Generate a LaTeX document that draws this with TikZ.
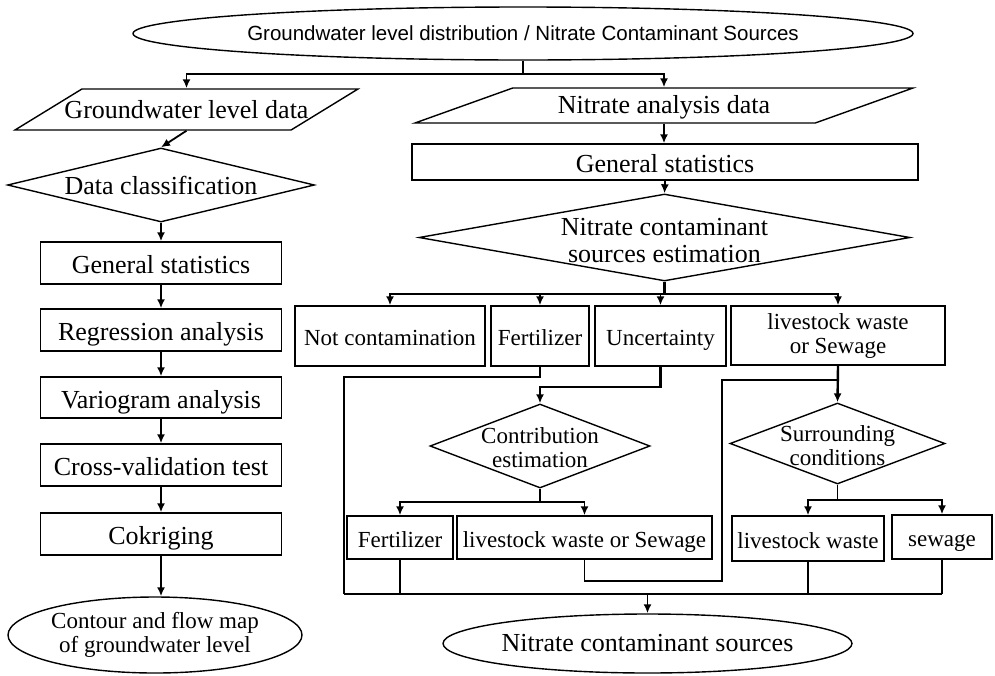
\documentclass[tikz,border=0pt]{standalone}
\usepackage{fontspec}
\setmainfont{Liberation Serif}
\newfontfamily\headfont{Liberation Sans}
\usetikzlibrary{shapes.geometric,arrows.meta}
\newcommand{\flowbig}{\fontsize{26}{27}\selectfont}
\newcommand{\flowsmall}{\fontsize{23}{24}\selectfont}
\newcommand{\flowhead}{\headfont\fontsize{20.5}{22}\selectfont}

\begin{document}
\begin{tikzpicture}[x=1pt,y=-1pt,
  outline/.style={draw,line width=1.4pt,inner sep=0pt},
  box/.style={outline,rectangle},
  decide/.style={outline,diamond},
  io/.style={outline,trapezium,trapezium stretches body},
  term/.style={outline,ellipse},
  bigtxt/.style={font=\flowbig,align=center},
  smalltxt/.style={font=\flowsmall,align=center},
  bigbox/.style={box,bigtxt,text height=22pt,text depth=1pt},
  smallbox/.style={box,smalltxt,text height=20pt,text depth=1pt},
  link/.style={line width=1.8pt},
  heavylink/.style={line width=2.6pt},
  arrowlink/.style={line width=1.8pt,-{Latex[length=9pt,width=8pt]}}]
\useasboundingbox (0,0) rectangle (995,675) ;

\node (top) [term,minimum width=780,minimum height=53,label={[font=\flowhead]center:Groundwater level distribution / Nitrate Contaminant Sources}] at (523,33.5) {} ;

\node (gwdata) [io,trapezium left angle=31.5,trapezium right angle=148.5,inner ysep=20.5pt,minimum width=343,label={[bigtxt]center:Groundwater level data}] at (186.5,109.5) {} ;
\node (classify) [decide,minimum width=307,minimum height=74,label={[bigtxt]center:Data classification}] at (161,185) {} ;
\node (stat1) [bigbox,minimum width=241,minimum height=42] at (161,263) {General statistics} ;
\node (regress) [bigbox,minimum width=241,minimum height=42] at (161,330) {Regression analysis} ;
\node (vario) [bigbox,minimum width=241,minimum height=41] at (161,397.5) {Variogram analysis} ;
\node (crossval) [bigbox,minimum width=241,minimum height=42] at (161,465) {Cross-validation test} ;
\node (cokrig) [bigbox,minimum width=241,minimum height=42] at (161,534) {Cokriging} ;
\node (contour) [term,minimum width=294,minimum height=76,label={[smalltxt]center:{Contour and flow map\\of groundwater level}}] at (155,635) {} ;

\node (no3data) [io,trapezium left angle=19.7,trapezium right angle=160.3,inner ysep=17.5pt,minimum width=498,label={[bigtxt,yshift=-2]center:Nitrate analysis data}] at (664,105.5) {} ;
\node (stat2) [bigbox,minimum width=506,minimum height=36] at (665,162) {General statistics} ;
\node (estim) [decide,minimum width=491,minimum height=87,label={[bigtxt,yshift=-3]center:{Nitrate contaminant\\sources estimation}}] at (664.5,237.5) {} ;

\node (notcont) [smallbox,minimum width=190,minimum height=60] at (390,336) {Not contamination} ;
\node (fert1) [smallbox,minimum width=98,minimum height=60] at (540,336) {Fertilizer} ;
\node (uncert) [smallbox,minimum width=131,minimum height=60] at (660.5,336) {Uncertainty} ;
\node (waste1) [box,smalltxt,minimum width=214,minimum height=59] at (838,335.5) {livestock waste\\or Sewage} ;

\node (contrib) [decide,minimum width=220,minimum height=84,label={[smalltxt,yshift=-2]center:{Contribution\\estimation}}] at (540,446) {} ;
\node (surround) [decide,minimum width=215,minimum height=81,label={[smalltxt,yshift=-2]center:{Surrounding\\conditions}}] at (837.5,443.5) {} ;

\node (fert2) [smallbox,minimum width=106,minimum height=43] at (400,537.5) {Fertilizer} ;
\node (wasteorsew) [smallbox,minimum width=255,minimum height=43] at (584.5,537.5) {livestock waste or Sewage} ;
\node (waste2) [smallbox,minimum width=152,minimum height=45] at (808,538.5) {livestock waste} ;
\node (sewage) [smallbox,minimum width=100,minimum height=44] at (942,537) {sewage} ;
\node (sources) [term,minimum width=409,minimum height=59,label={[bigtxt]center:Nitrate contaminant sources}] at (647.5,643.5) {} ;

\coordinate (split1) at (523,74) ;
\coordinate (split2) at (664.5,294) ;
\coordinate (split3) at (540,502) ;
\coordinate (split4) at (837.5,500) ;
\coordinate (leftdrop) at (344,377) ;
\coordinate (bend) at (722,581) ;
\coordinate (tie) at (722,380) ;
\coordinate (join) at (647.5,594) ;

\draw [heavylink] (top.south) -- (split1) ;
\draw [arrowlink] (split1) -| (gwdata.north) ;
\draw [arrowlink] (split1) -| (no3data.north) ;
\draw [arrowlink] (gwdata.south) -- (classify.north) ;
\draw [arrowlink] (classify.south) -- (stat1.north) ;
\draw [arrowlink] (stat1) -- (regress) ;
\draw [arrowlink] (regress) -- (vario) ;
\draw [arrowlink] (vario) -- (crossval) ;
\draw [arrowlink] (crossval) -- (cokrig) ;
\draw [arrowlink] (cokrig.south) -- (cokrig.south |- contour.north) ;

\draw [arrowlink] (no3data.south) -- (no3data.south |- stat2.north) ;
\draw [arrowlink] (stat2.south) -- (estim.north) ;
\draw [heavylink] (estim.south) -- (split2) ;
\draw [arrowlink] (split2) -| (notcont.north) ;
\draw [arrowlink] (split2) -| (fert1.north) ;
\draw [arrowlink] (split2) -| (uncert.north) ;
\draw [arrowlink] (split2) -| (waste1.north) ;

\draw [link] (fert1.south) |- (leftdrop) -- (leftdrop |- join) ;
\draw [arrowlink,line width=2.4pt] (uncert.south) -- ++(0,20) -| (contrib.north) ;
\draw [arrowlink,line width=2.4pt] (waste1.south) -- (surround.north) ;
\draw [link] (contrib.south) -- (split3) ;
\draw [arrowlink] (split3) -| (fert2.north) ;
\draw [arrowlink] (split3) -| (wasteorsew.north) ;
\draw [link] (surround.south) -- (split4) ;
\draw [arrowlink,line width=2.4pt] (split4) -| (waste2.north) ;
\draw [arrowlink,line width=2.4pt] (split4) -| (sewage.north) ;
\draw [link] (wasteorsew.south) |- (bend) -- (tie) -- (tie -| waste1.south) ;

\draw [link] (fert2.south) -- (fert2.south |- join) ;
\draw [link] (waste2.south) -- (waste2.south |- join) ;
\draw [link] (sewage.south) -- (sewage.south |- join) ;
\draw [heavylink] (leftdrop |- join) -- (sewage.south |- join) ;
\draw [arrowlink] (join) -- (sources.north) ;

\end{tikzpicture}
\end{document}
